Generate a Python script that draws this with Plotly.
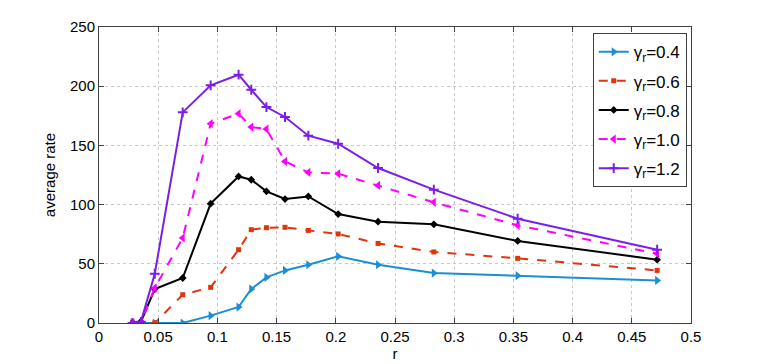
import plotly.graph_objects as go

# r values shared by all curves
r = [0.0283, 0.0354, 0.0471, 0.0707, 0.0943, 0.1179, 0.1286, 0.1414, 0.1571,
     0.1768, 0.2020, 0.2357, 0.2828, 0.3536, 0.4714]

rate_04 = [0, 0, 0, 0, 6.2, 13.5, 28.7, 38.5, 44.4, 49.2, 56.3, 49.2, 42.2, 40.0, 36.0]
rate_06 = [0, 0, 0, 23.9, 30.1, 61.9, 78.8, 80.5, 80.8, 78.2, 75.2, 67.2, 60.0, 54.6, 44.4]
rate_08 = [0, 1, 28.7, 38.0, 100.8, 123.8, 121.0, 111.2, 104.7, 106.9, 92.0, 85.6, 83.3, 69.3, 53.5]
rate_10 = [0, 0, 29.6, 71.8, 168.3, 176.8, 165.5, 163.8, 136.5, 127.2, 126.1, 116.2, 101.9, 82.5, 58.5]
rate_12 = [0, 1, 41.6, 177.9, 200.7, 209.7, 197.0, 182.4, 174.0, 158.2, 151.4, 130.9, 112.6, 88.1, 61.9]

names = ["γ<sub>r</sub>=0.4", "γ<sub>r</sub>=0.6", "γ<sub>r</sub>=0.8",
         "γ<sub>r</sub>=1.0", "γ<sub>r</sub>=1.2"]

fig = go.Figure()

styles = [
    (rate_04, "#1a8fd6", "solid", "triangle-right", 8),
    (rate_06, "#e0340e", "dash", "square", 5),
    (rate_08, "#000000", "solid", "diamond", 6),
    (rate_10, "#ff00ff", "dash", "triangle-left", 8),
    (rate_12, "#7a1ee8", "solid", "cross-thin", 7),
]

for i, (vals, col, dash, sym, size) in enumerate(styles):
    marker = dict(symbol=sym, size=size, color=col)
    if sym == "cross-thin":
        marker["line"] = dict(color=col, width=2)
    fig.add_trace(go.Scatter(
        x=r, y=vals, name=names[i], mode="lines+markers",
        line=dict(color=col, width=2, dash=dash),
        marker=marker, legendgroup=str(i),
    ))

axis_style = dict(
    showline=True, linecolor="#404040", linewidth=1, mirror="ticks",
    ticks="inside", ticklen=5, tickcolor="#404040",
    showgrid=True, gridcolor="#c8c8c8", griddash="dot", gridwidth=1,
    zeroline=False, tickfont=dict(size=15, color="#000000"), automargin=False,
)

fig.update_xaxes(range=[0, 0.5], dtick=0.05, tickformat="~g",
                 title=dict(text="r", font=dict(size=15), standoff=4), **axis_style)
fig.update_yaxes(range=[0, 250], dtick=50,
                 title=dict(text="average rate", font=dict(size=15), standoff=10), **axis_style)

fig.update_layout(
    width=763, height=364,
    margin=dict(l=99, r=72, t=27, b=41),
    plot_bgcolor="white", paper_bgcolor="white",
    font=dict(family="Liberation Sans, Arial, sans-serif", size=15, color="#000000"),
    legend=dict(x=0.834, y=0.979, xanchor="left", yanchor="top",
                bordercolor="#404040", borderwidth=1, bgcolor="white",
                tracegroupgap=4, font=dict(size=17)),
)

# drop the default 8px page margin so the figure sits at the window origin
fig.write_html("out.html", config={"displayModeBar": False},
               post_script="document.body.style.margin='0';")
